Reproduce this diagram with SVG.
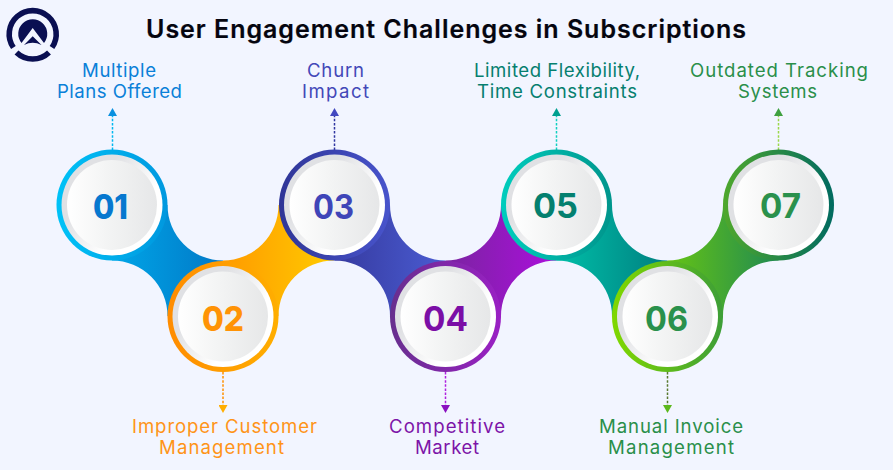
<svg xmlns="http://www.w3.org/2000/svg" xmlns:xlink="http://www.w3.org/1999/xlink" width="893" height="470" viewBox="0 0 893 470">
<style>
text{font-family:Inter,"Open Sans","Liberation Sans",sans-serif;text-anchor:middle}
.title{font-size:25px;font-weight:600;fill:#05050f;stroke:#05050f;stroke-width:.2}
.t{font-size:18.600px;font-weight:400}
.n{font-size:34px;font-weight:700}
.h{font-weight:800}
.d{fill:url(#disc)}.e{fill:url(#edge)}
.c{fill:none;stroke-width:1.500;stroke-dasharray:2.500 1.600}
.logo{fill:#0a0f52}
.logoarc{fill:none;stroke:#0a0f52;stroke-width:5.600}
</style>
<defs>
<linearGradient id="disc"><stop offset="0" stop-color="#fff"/><stop offset=".45" stop-color="#f3f4f4"/><stop offset="1" stop-color="#e6e7e8"/></linearGradient>
<linearGradient id="edge" x1="0" y1="0.100" x2="1" y2="0.900"><stop offset=".3" stop-color="#e0e1e4"/><stop offset=".68" stop-color="#fff"/></linearGradient>
<linearGradient id="b1"><stop offset="0" stop-color="#00a6e8"/><stop offset="1" stop-color="#0278c6"/></linearGradient>
<linearGradient id="b2"><stop offset="0" stop-color="#ff9a00"/><stop offset="1" stop-color="#ffcb00"/></linearGradient>
<linearGradient id="b3"><stop offset="0" stop-color="#363a9f"/><stop offset="1" stop-color="#4a5cd2"/></linearGradient>
<linearGradient id="b4"><stop offset="0" stop-color="#7a24a0"/><stop offset="1" stop-color="#ab0fdc"/></linearGradient>
<linearGradient id="b5"><stop offset="0" stop-color="#00bfa8"/><stop offset="1" stop-color="#007f80"/></linearGradient>
<linearGradient id="b6"><stop offset="0" stop-color="#66c414"/><stop offset="1" stop-color="#208a52"/></linearGradient>
<linearGradient id="r1"><stop offset="0" stop-color="#00c2f7"/><stop offset="1" stop-color="#0098df"/></linearGradient>
<linearGradient id="r2"><stop offset="0" stop-color="#ff8c00"/><stop offset="1" stop-color="#ffae00"/></linearGradient>
<linearGradient id="r3"><stop offset="0" stop-color="#2f3596"/><stop offset="1" stop-color="#4854cc"/></linearGradient>
<linearGradient id="r4"><stop offset="0" stop-color="#672f8e"/><stop offset="1" stop-color="#9a20c4"/></linearGradient>
<linearGradient id="r5"><stop offset="0" stop-color="#00cdbd"/><stop offset="1" stop-color="#00958c"/></linearGradient>
<linearGradient id="r6"><stop offset="0" stop-color="#80d800"/><stop offset="1" stop-color="#3d9e38"/></linearGradient>
<linearGradient id="r7"><stop offset="0" stop-color="#4fa82c"/><stop offset="1" stop-color="#006a60"/></linearGradient>
<path id="fall" d="M0,55.500A55.500 55.500 0 0 1 55.500,111H111V55.500A55.500 55.500 0 0 1 55.500,0H0Z"/>
<path id="rise" d="M0,55.500A55.500 55.500 0 0 0 55.500,0H111V55.500A55.500 55.500 0 0 0 55.500,111H0Z"/>
<marker id="m1" viewBox="0 0 8 9" refX="0" refY="4.500" markerWidth="8" markerHeight="9" markerUnits="userSpaceOnUse" orient="auto"><path d="M0,0L8,4.500L0,9Z" fill="#0a90e0"/></marker>
<marker id="m2" viewBox="0 0 8 9" refX="0" refY="4.500" markerWidth="8" markerHeight="9" markerUnits="userSpaceOnUse" orient="auto"><path d="M0,0L8,4.500L0,9Z" fill="#ffae00"/></marker>
<marker id="m3" viewBox="0 0 8 9" refX="0" refY="4.500" markerWidth="8" markerHeight="9" markerUnits="userSpaceOnUse" orient="auto"><path d="M0,0L8,4.500L0,9Z" fill="#4248c0"/></marker>
<marker id="m4" viewBox="0 0 8 9" refX="0" refY="4.500" markerWidth="8" markerHeight="9" markerUnits="userSpaceOnUse" orient="auto"><path d="M0,0L8,4.500L0,9Z" fill="#8a10c0"/></marker>
<marker id="m5" viewBox="0 0 8 9" refX="0" refY="4.500" markerWidth="8" markerHeight="9" markerUnits="userSpaceOnUse" orient="auto"><path d="M0,0L8,4.500L0,9Z" fill="#00a090"/></marker>
<marker id="m6" viewBox="0 0 8 9" refX="0" refY="4.500" markerWidth="8" markerHeight="9" markerUnits="userSpaceOnUse" orient="auto"><path d="M0,0L8,4.500L0,9Z" fill="#5cb81c"/></marker>
<marker id="m7" viewBox="0 0 8 9" refX="0" refY="4.500" markerWidth="8" markerHeight="9" markerUnits="userSpaceOnUse" orient="auto"><path d="M0,0L8,4.500L0,9Z" fill="#3fa040"/></marker>
</defs>
<rect width="893" height="470" fill="#f2f5ff"/>
<g id="logo">
<path class="logoarc" d="M13.400,47.500A23.500 23.500 0 1 1 52,47.500"/>
<path class="logoarc" d="M16.500,52.500A23.500 23.500 0 0 0 49,52.500"/>
<path class="logo" d="M21.500,43A14.500 14.500 0 1 1 44,43L32.700,28Z"/>
<path class="logo" d="M32.700,36.200L41.500,45Q32.700,40.500 24,45Z"/>
</g>
<text class="title" x="446" y="38" textLength="600" lengthAdjust="spacing">User Engagement Challenges in Subscriptions</text>
<g id="connectors">
<use xlink:href="#fall" href="#fall" x="112" y="205" fill="url(#b1)"/>
<use xlink:href="#rise" href="#rise" x="223" y="205" fill="url(#b2)"/>
<use xlink:href="#fall" href="#fall" x="334.500" y="205" fill="url(#b3)"/>
<use xlink:href="#rise" href="#rise" x="445.500" y="205" fill="url(#b4)"/>
<use xlink:href="#fall" href="#fall" x="556.500" y="205" fill="url(#b5)"/>
<use xlink:href="#rise" href="#rise" x="667.500" y="205" fill="url(#b6)"/>
<path class="c" stroke="#00b8f0" d="M112.500,150V116" marker-end="url(#m1)"/>
<path class="c" stroke="#ff9000" d="M223,372V405" marker-end="url(#m2)"/>
<path class="c" stroke="#2f35a0" d="M334.500,150V116" marker-end="url(#m3)"/>
<path class="c" stroke="#b020e0" d="M445.500,372V405" marker-end="url(#m4)"/>
<path class="c" stroke="#10d0c0" d="M556.500,150V116" marker-end="url(#m5)"/>
<path class="c" stroke="#5a7a30" d="M667.500,372V405" marker-end="url(#m6)"/>
<path class="c" stroke="#9bd84a" d="M778.500,150V116" marker-end="url(#m7)"/>
</g>
<g id="node1">
<circle cx="112" cy="205" r="55.500" fill="url(#r1)"/><circle class="e" cx="112" cy="205" r="50.500"/><circle class="d" cx="112" cy="205" r="45"/>
<text class="n h" x="110.500" y="218.700" fill="#0678cf" textLength="35" lengthAdjust="spacingAndGlyphs">01</text>
<text class="t" x="119" y="77" fill="#0a80d8" textLength="74">Multiple</text>
<text class="t" x="119.500" y="98" fill="#0a80d8" textLength="125">Plans Offered</text>
</g>
<g id="node2">
<circle cx="223" cy="316.500" r="55.500" fill="url(#r2)"/><circle class="e" cx="223" cy="316.500" r="50.500"/><circle class="d" cx="223" cy="316.500" r="45"/>
<text class="n h" x="223" y="330.700" fill="#ff9305" textLength="42" lengthAdjust="spacingAndGlyphs">02</text>
<text class="t" x="224.500" y="433" fill="#ff9418" textLength="185">Improper Customer</text>
<text class="t" x="221.500" y="454" fill="#ff9418" textLength="125">Management</text>
</g>
<g id="node3">
<circle cx="334.500" cy="205" r="55.500" fill="url(#r3)"/><circle class="e" cx="334.500" cy="205" r="50.500"/><circle class="d" cx="334.500" cy="205" r="45"/>
<text class="n" x="333.500" y="219" fill="#3f45b8" textLength="41" lengthAdjust="spacingAndGlyphs">03</text>
<text class="t" x="335.500" y="77" fill="#4348b8" textLength="57">Churn</text>
<text class="t" x="335.500" y="98" fill="#4348b8" textLength="67">Impact</text>
</g>
<g id="node4">
<circle cx="445.500" cy="316.500" r="55.500" fill="url(#r4)"/><circle class="e" cx="445.500" cy="316.500" r="50.500"/><circle class="d" cx="445.500" cy="316.500" r="45"/>
<text class="n" x="445.500" y="330.700" fill="#7b0ea6" textLength="45" lengthAdjust="spacingAndGlyphs">04</text>
<text class="t" x="447" y="433" fill="#7d14a8" textLength="116">Competitive</text>
<text class="t" x="447" y="454" fill="#7d14a8" textLength="64">Market</text>
</g>
<g id="node5">
<circle cx="556.500" cy="205" r="55.500" fill="url(#r5)"/><circle class="e" cx="556.500" cy="205" r="50.500"/><circle class="d" cx="556.500" cy="205" r="45"/>
<text class="n" x="555.500" y="218" fill="#04806f" textLength="45" lengthAdjust="spacingAndGlyphs">05</text>
<text class="t" x="557" y="77" fill="#067f6f" textLength="166">Limited Flexibility,</text>
<text class="t" x="557" y="98" fill="#067f6f" textLength="160">Time Constraints</text>
</g>
<g id="node6">
<circle cx="667.500" cy="316.500" r="55.500" fill="url(#r6)"/><circle class="e" cx="667.500" cy="316.500" r="50.500"/><circle class="d" cx="667.500" cy="316.500" r="45"/>
<text class="n" x="666.500" y="330.700" fill="#2a914c" textLength="43" lengthAdjust="spacingAndGlyphs">06</text>
<text class="t" x="671" y="433" fill="#2a8f4a" textLength="144">Manual Invoice</text>
<text class="t" x="671" y="454" fill="#2a8f4a" textLength="126">Management</text>
</g>
<g id="node7">
<circle cx="778.500" cy="205" r="55.500" fill="url(#r7)"/><circle class="e" cx="778.500" cy="205" r="50.500"/><circle class="d" cx="778.500" cy="205" r="45"/>
<text class="n" x="780.500" y="218" fill="#2a914c" textLength="41" lengthAdjust="spacingAndGlyphs">07</text>
<text class="t" x="779" y="77" fill="#2a8f4a" textLength="178">Outdated Tracking</text>
<text class="t" x="777.500" y="98" fill="#2a8f4a" textLength="79">Systems</text>
</g>
</svg>
